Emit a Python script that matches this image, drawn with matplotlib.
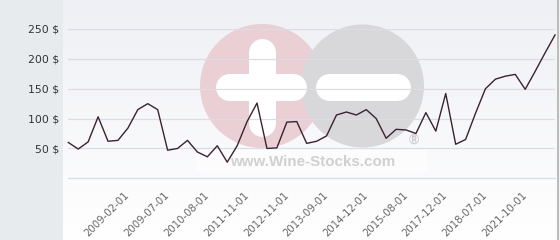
import numpy as np
import matplotlib
matplotlib.use('Agg')
import matplotlib.pyplot as plt
from matplotlib.patches import Circle, Rectangle

# price per bottle, one point per offer date
prices = [60, 49, 61, 103, 62, 63.5, 84, 115, 125, 115,
          47, 50, 63.5, 44, 36, 54.5, 27, 54.5, 95, 126,
          50, 51, 94, 95, 58.5, 62, 71, 106, 111, 106,
          115, 100, 67, 82, 81, 75, 110, 79, 142, 57,
          65, 109, 150, 166, 171, 174, 149, 179, 210, 240]
date_labels = ['2009-02-01', '2009-07-01', '2010-08-01', '2011-11-01', '2012-11-01',
               '2013-09-01', '2014-12-01', '2015-08-01', '2017-12-01', '2018-07-01',
               '2021-10-01']
first_label = 6
label_step = 4
y_ticks = [0, 50, 100, 150, 200, 250]
y_labels = ['' if v == 0 else f'{v} $' for v in y_ticks]

W, H = 560, 240
PX = 0.72  # points per pixel at dpi 100

fig = plt.figure(figsize=(W / 100, H / 100), dpi=100, facecolor='#e8ebee')

# background layer in pixel coordinates
bg = fig.add_axes([0, 0, 1, 1])
bg.set_xlim(0, W)
bg.set_ylim(H, 0)
bg.axis('off')

top = np.array([0.937, 0.941, 0.961])
bot = np.array([1.0, 1.0, 1.0])
t = np.linspace(0, 1, H)[:, None, None]
grad = top * (1 - t) + bot * t
grad = np.repeat(grad, 2, axis=1)
bg.imshow(grad, extent=(63, 557, H, 0), aspect='auto', zorder=0)
bg.add_patch(Rectangle((557, 0), 3, H, color='#f4f4f4', zorder=1))
bg.plot([558.3, 558.3], [0, H], color='#a9a9a9', lw=1.5 * PX, zorder=2)

# watermark
bg.add_patch(Rectangle((197, 150), 230, 23, color='white', alpha=0.55, lw=0, zorder=1))
bg.add_patch(Circle((262, 86), 62, color='#eacfd5', lw=0, zorder=2))
bg.add_patch(Circle((362.5, 86), 61.5, color='#d8d8da', lw=0, zorder=3))
bar = 27 * PX
bg.plot([261.7, 261.7], [51.5, 123.2], color='white', lw=bar, solid_capstyle='round', zorder=4)
bg.plot([228.5, 293.2], [86.7, 86.7], color='white', lw=bar, solid_capstyle='round', zorder=4)
bg.plot([328.5, 396.5], [86.7, 86.7], color='white', lw=bar, solid_capstyle='round', zorder=4)
bg.text(312.5, 162, 'www.Wine-Stocks.com', family='Liberation Sans', weight='bold',
        fontsize=10.9, color='#d0d0d0', ha='center', va='center', zorder=5)
bg.text(413.5, 139.5, '®', family='Liberation Sans', weight='bold',
        fontsize=10, color='#cdcdcd', ha='center', va='center', zorder=5)

# chart
ax = fig.add_axes([68.3 / W, (H - 178.3) / H, (555 - 68.3) / W, (178.3 - 29) / H])
ax.patch.set_alpha(0)
x = np.arange(len(prices))
ax.plot(x, prices, color='#3a2232', lw=1.0, clip_on=False, zorder=3)
ax.set_xlim(0, len(prices) - 1)
ax.set_ylim(0, 250)

ax.set_yticks(y_ticks)
ax.set_yticklabels(y_labels)
ax.yaxis.grid(True, color='#dcdde2', lw=1.2 * PX)
ax.axhline(0, color='#dcdde2', lw=1.2 * PX, clip_on=False, zorder=1)
ax.set_axisbelow(True)

ax.set_xticks(list(range(first_label, len(prices), label_step)))
ax.set_xticklabels(date_labels, rotation=45, ha='right', va='center',
                   rotation_mode='anchor', fontsize=7.3, color='#666666')
ax.tick_params(axis='x', length=0, pad=11)
ax.tick_params(axis='y', length=0, pad=6.5, labelsize=7.8, labelcolor='#333333')
for s in ax.spines.values():
    s.set_visible(False)

fig.savefig('out.png', dpi=100, facecolor=fig.get_facecolor())
